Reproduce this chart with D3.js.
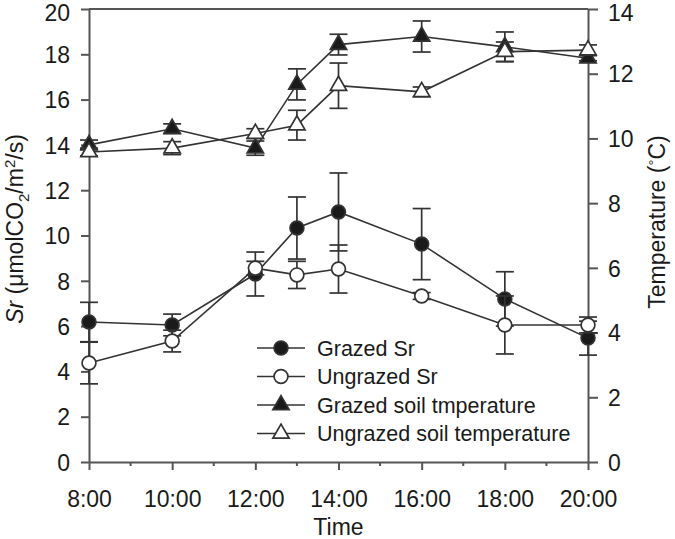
<!DOCTYPE html>
<html>
<head>
<meta charset="utf-8">
<script src="https://cdn.jsdelivr.net/npm/d3@7/dist/d3.min.js"></script>
<style>
  html, body { margin: 0; padding: 0; background: #fff; }
  svg { display: block; font-family: "Liberation Sans", Arial, Helvetica, sans-serif; }
</style>
</head>
<body>
<svg id="chart" width="675" height="539"></svg>
<script>
// ---- data ----
const times = [8, 10, 12, 13, 14, 16, 18, 20];
const xTickValues = [8, 10, 12, 14, 16, 18, 20];
const xTickLabels = ["8:00", "10:00", "12:00", "14:00", "16:00", "18:00", "20:00"];
const leftTicks = [0, 2, 4, 6, 8, 10, 12, 14, 16, 18, 20];
const rightTicks = [0, 2, 4, 6, 8, 10, 12, 14];

const grazedSr = [6.18, 6.05, 8.3, 10.33, 11.04, 9.62, 7.2, 5.47];
const grazedSrErr = [0.87, 0.48, 0.97, 1.37, 1.72, 1.57, 1.2, 0.75];
const ungrazedSr = [4.37, 5.34, 8.56, 8.26, 8.52, 7.33, 6.05, 6.05];
const ungrazedSrErr = [0.92, 0.48, 0.3, 0.6, 1.06, 0.15, 1.28, 0.35];
const grazedT = [9.8, 10.3, 9.7, 11.67, 12.9, 13.15, 12.83, 12.48];
const grazedTErr = [0.15, 0.15, 0.22, 0.48, 0.32, 0.48, 0.46, 0.08];
const ungrazedT = [9.58, 9.7, 10.15, 10.41, 11.63, 11.44, 12.68, 12.73];
const ungrazedTErr = [0.12, 0.2, 0.15, 0.46, 0.7, 0.15, 0.3, 0.16];

const legendLabels = ["Grazed Sr", "Ungrazed Sr", "Grazed soil tmperature", "Ungrazed soil temperature"];

// ---- layout ----
const W = 675, H = 539;
const margin = { left: 89, right: 87, top: 9, bottom: 77 };
const x0 = margin.left, x1 = W - margin.right, y0 = H - margin.bottom, y1 = margin.top;

const svg = d3.select("#chart");
const x = d3.scaleLinear().domain([8, 20]).range([x0, x1]);
const yL = d3.scaleLinear().domain([0, 20]).range([y0, y1]);
const yR = d3.scaleLinear().domain([0, 14]).range([y0, y1]);

const axisColor = "#555";
const lineColor = "#333";
const textColor = "#1a1a1a";
const fontSize = 23;

// frame top
svg.append("line").attr("x1", x0).attr("x2", x1).attr("y1", y1).attr("y2", y1)
  .attr("stroke", axisColor).attr("stroke-width", 2);

// bottom axis
const gx = svg.append("g").attr("transform", `translate(0,${y0})`)
  .call(d3.axisBottom(x).tickValues(xTickValues).tickFormat((d, i) => xTickLabels[i]).tickSize(8).tickSizeOuter(0).tickPadding(21));
gx.select(".domain").attr("stroke", axisColor).attr("stroke-width", 2);
gx.selectAll(".tick line").attr("stroke", axisColor).attr("stroke-width", 2);
gx.selectAll(".tick text").attr("font-size", fontSize).attr("fill", textColor).attr("font-family", "Liberation Sans, Arial, sans-serif");
// minor ticks
const minor = d3.range(9, 20, 2);
svg.append("g").selectAll("line").data(minor).join("line")
  .attr("x1", d => x(d)).attr("x2", d => x(d)).attr("y1", y0).attr("y2", y0 + 4)
  .attr("stroke", axisColor).attr("stroke-width", 2);

// left axis
const gl = svg.append("g").attr("transform", `translate(${x0},0)`)
  .call(d3.axisLeft(yL).tickValues(leftTicks).tickSize(8).tickSizeOuter(0).tickPadding(11));
gl.select(".domain").attr("stroke", axisColor).attr("stroke-width", 2);
gl.selectAll(".tick line").attr("stroke", axisColor).attr("stroke-width", 2);
gl.selectAll(".tick text").attr("font-size", fontSize).attr("fill", textColor).attr("font-family", "Liberation Sans, Arial, sans-serif")
  .attr("dy", d => d === 20 ? "0.5em" : "0.36em");

// right axis
const gr = svg.append("g").attr("transform", `translate(${x1},0)`)
  .call(d3.axisRight(yR).tickValues(rightTicks).tickSize(10).tickSizeOuter(0).tickPadding(10));
gr.select(".domain").attr("stroke", axisColor).attr("stroke-width", 2);
gr.selectAll(".tick line").attr("stroke", axisColor).attr("stroke-width", 2);
gr.selectAll(".tick text").attr("font-size", fontSize).attr("fill", textColor).attr("font-family", "Liberation Sans, Arial, sans-serif")
  .attr("dy", d => d === 14 ? "0.5em" : "0.36em");

// axis titles
svg.append("text").attr("x", (x0 + x1) / 2).attr("y", 535).attr("text-anchor", "middle")
  .attr("font-size", fontSize).attr("fill", textColor).text("Time");

const lt = svg.append("text").attr("transform", `translate(23,229) rotate(-90)`)
  .attr("text-anchor", "middle").attr("font-size", fontSize).attr("fill", textColor);
lt.append("tspan").attr("font-style", "italic").text("Sr");
lt.append("tspan").text(" (\u03BCmolCO");
lt.append("tspan").attr("font-size", 15).attr("dy", 6).text("2");
lt.append("tspan").attr("dy", -6).text("/m");
lt.append("tspan").attr("font-size", 15).attr("dy", -8).text("2");
lt.append("tspan").attr("dy", 8).text("/s)");

const rt = svg.append("text").attr("transform", `translate(665,222) rotate(-90)`)
  .attr("text-anchor", "middle").attr("font-size", fontSize).attr("fill", textColor);
rt.append("tspan").text("Temperature (");
rt.append("tspan").attr("font-size", 15).attr("dy", -6).text("\u00B0");
rt.append("tspan").attr("dy", 6).text("C)");

// series
const series = [
  { vals: grazedSr, errs: grazedSrErr, y: yL, sym: d3.symbolCircle, size: 150, fill: "#1a1a1a" },
  { vals: ungrazedSr, errs: ungrazedSrErr, y: yL, sym: d3.symbolCircle, size: 150, fill: "#fff" },
  { vals: grazedT, errs: grazedTErr, y: yR, sym: d3.symbolTriangle, size: 115, fill: "#1a1a1a" },
  { vals: ungrazedT, errs: ungrazedTErr, y: yR, sym: d3.symbolTriangle, size: 115, fill: "#fff" }
];

const capW = 9;
series.forEach(s => {
  const g = svg.append("g");
  const pts = times.map((t, i) => ({ t, v: s.vals[i], e: s.errs[i] }));
  // error bars
  const eb = g.append("g").attr("stroke", lineColor).attr("stroke-width", 1.7).attr("fill", "none");
  pts.forEach(p => {
    const xx = x(p.t), yt = s.y(p.v + p.e), yb = s.y(p.v - p.e);
    eb.append("line").attr("x1", xx).attr("x2", xx).attr("y1", yt).attr("y2", yb);
    eb.append("line").attr("x1", xx - capW).attr("x2", xx + capW).attr("y1", yt).attr("y2", yt);
    eb.append("line").attr("x1", xx - capW).attr("x2", xx + capW).attr("y1", yb).attr("y2", yb);
  });
  // line
  g.append("path").datum(pts)
    .attr("d", d3.line().x(d => x(d.t)).y(d => s.y(d.v)))
    .attr("fill", "none").attr("stroke", lineColor).attr("stroke-width", 1.6);
  // markers
  g.selectAll("path.m").data(pts).join("path").attr("class", "m")
    .attr("transform", d => `translate(${x(d.t)},${s.y(d.v)})`)
    .attr("d", d3.symbol().type(s.sym).size(s.size))
    .attr("fill", s.fill).attr("stroke", lineColor).attr("stroke-width", 1.7);
});

// legend
const legX = 257, legLineLen = 48, legY0 = 348, legDy = 28.5;
const lg = svg.append("g");
series.forEach((s, i) => {
  const yy = legY0 + i * legDy;
  lg.append("line").attr("x1", legX).attr("x2", legX + legLineLen).attr("y1", yy).attr("y2", yy)
    .attr("stroke", lineColor).attr("stroke-width", 1.6);
  lg.append("path").attr("transform", `translate(${legX + legLineLen / 2},${yy})`)
    .attr("d", d3.symbol().type(s.sym).size(s.size))
    .attr("fill", s.fill).attr("stroke", lineColor).attr("stroke-width", 1.7);
  lg.append("text").attr("x", legX + legLineLen + 12).attr("y", yy).attr("dy", "0.35em")
    .attr("font-size", 21.5).attr("fill", textColor).text(legendLabels[i]);
});
</script>
</body>
</html>
